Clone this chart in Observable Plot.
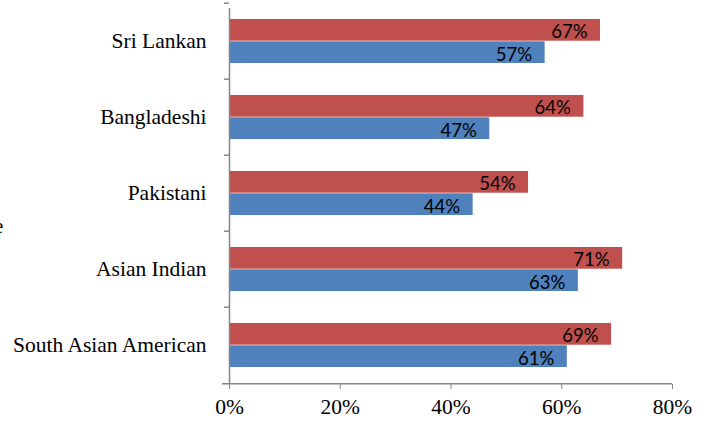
<!DOCTYPE html>
<html>
<head>
<meta charset="utf-8">
<script src="https://cdn.jsdelivr.net/npm/d3@7"></script>
<script src="https://cdn.jsdelivr.net/npm/@observablehq/plot@0.6"></script>
<style>
  html, body { margin: 0; padding: 0; background: #fff; overflow: hidden; }
  #wrap { position: relative; width: 708px; height: 427px; }
  #stray { position: absolute; left: -6px; top: 214px; font: 21px "Liberation Serif", serif; color: #000; }
  svg g[aria-label^="x-axis"] line, svg g[aria-label="x-axis tick"] path { stroke: #868686; }
</style>
</head>
<body>
<div id="wrap"><span id="stray">e</span></div>
<script>
const categories = ["Sri Lankan", "Bangladeshi", "Pakistani", "Asian Indian", "South Asian American"];
const redValues  = [67, 64, 54, 71, 69];
const blueValues = [57, 47, 44, 63, 61];
const xTicks = [0, 20, 40, 60, 80];

const red = categories.map((c, i) => ({category: c, value: redValues[i]}));
const blue = categories.map((c, i) => ({category: c, value: blueValues[i]}));

const W = 708, H = 427, mt = 1, mb = 43;
const step = (H - mt - mb) / categories.length;
const half = step / 2;
const barH = 22.3;
const gap = (step - 2 * barH) / 2;
const axisGray = "#868686";

const plot = Plot.plot({
  width: W,
  height: H,
  marginLeft: 229,
  marginRight: 36,
  marginTop: mt,
  marginBottom: mb,
  style: {fontFamily: "Liberation Serif, serif", fontSize: "21.5px", color: "#000", background: "#fff", overflow: "visible"},
  x: {domain: [0, 80], ticks: xTicks, tickFormat: d => d + "%", tickSize: 5, tickPadding: 9, label: null},
  y: {domain: categories, padding: 0, tickSize: 0, tickPadding: 23, label: null},
  marks: [
    Plot.barX(red, {y: "category", x: "value", fill: "#C0504D", insetTop: gap, insetBottom: gap + barH}),
    Plot.barX(blue, {y: "category", x: "value", fill: "#4F81BD", insetTop: gap + barH, insetBottom: gap}),
    Plot.text(red, {y: "category", x: "value", text: d => d.value + "%", textAnchor: "end", dx: -13, dy: -barH / 2 + 2, fontFamily: "Lato, sans-serif", fontSize: 18.5, fill: "#000"}),
    Plot.text(blue, {y: "category", x: "value", text: d => d.value + "%", textAnchor: "end", dx: -13, dy: barH / 2 + 2, fontFamily: "Lato, sans-serif", fontSize: 18.5, fill: "#000"}),
    Plot.ruleX([0], {stroke: axisGray, strokeWidth: 1.5, insetTop: 7}),
    Plot.ruleY(categories, {y: d => d, x1: 0, x2: 0, insetLeft: -5, dy: -half, stroke: axisGray, strokeWidth: 1.5}),
    Plot.ruleY(categories.slice(-1), {y: d => d, x1: 0, x2: 80, insetLeft: -7, dy: half, stroke: axisGray, strokeWidth: 1.5})
  ]
});
document.getElementById("wrap").appendChild(plot);
</script>
</body>
</html>
